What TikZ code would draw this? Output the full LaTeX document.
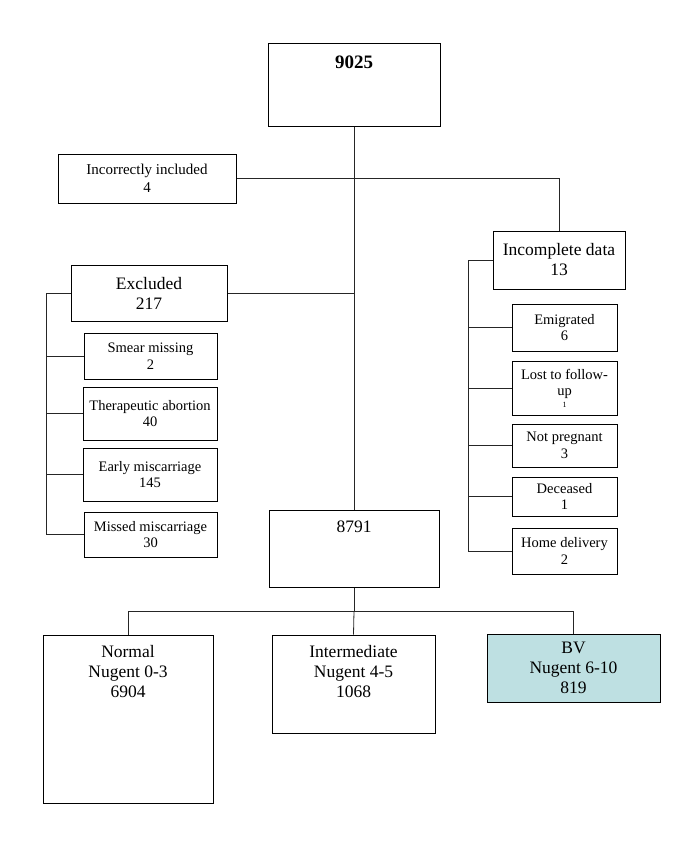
\documentclass[tikz,border=0pt]{standalone}
\usepackage{fontspec}
\setmainfont{Liberation Serif}
\definecolor{bvfill}{RGB}{190,224,226}
\begin{document}
\begin{tikzpicture}[x=1pt,y=-1pt,
  box/.style={draw=black, line width=1pt, inner sep=0pt, align=center},
  link/.style={draw=black!85, line width=0.8pt},
  big/.style={font=\fontsize{17.5}{20}\selectfont},
  mid/.style={font=\fontsize{15}{18}\selectfont},
  sm/.style={font=\fontsize{14.5}{16.5}\selectfont},
  txt/.style={inner sep=0pt, align=center, anchor=north}]
\useasboundingbox (0,0) rectangle (685,844);
% main boxes
\node[box, minimum width=172pt, minimum height=83pt] (top) at (354,84.5) {};
\node[txt, font=\bfseries\fontsize{19}{22}\selectfont] (topt) at (354,56) {9025};
\node[box, mid, minimum width=178pt, minimum height=49pt] (inc) at (147,178.5) {Incorrectly included\\4};
\node[box, big, minimum width=132pt, minimum height=58pt] (incd) at (559,260) {Incomplete data\\13};
\node[box, big, minimum width=156pt, minimum height=56pt] (excl) at (149,293) {Excluded\\217};
% left sub-boxes
\node[box, sm, minimum width=133pt, minimum height=46pt] (smear) at (150.5,356) {Smear missing\\2};
\node[box, sm, minimum width=134pt, minimum height=53pt] (thera) at (150,413.5) {Therapeutic abortion\\40};
\node[box, sm, minimum width=134pt, minimum height=53pt] (early) at (150,474.5) {Early miscarriage\\145};
\node[box, sm, minimum width=133pt, minimum height=45pt] (missed) at (150.5,534.5) {Missed miscarriage\\30};
% right sub-boxes
\node[box, sm, minimum width=105pt, minimum height=47pt] (emig) at (564.5,327.5) {Emigrated\\6};
\node[box, sm, minimum width=105pt, minimum height=54pt] (lost) at (564.5,388) {Lost to follow-\\up\\[-5pt]{\fontsize{8}{8}\selectfont 1}};
\node[box, sm, minimum width=105pt, minimum height=43pt] (notp) at (564.5,445.5) {Not pregnant\\3};
\node[box, sm, minimum width=105pt, minimum height=39pt] (dec) at (564.5,496.5) {Deceased\\1};
\node[box, sm, minimum width=105pt, minimum height=46pt] (home) at (564.5,551) {Home delivery\\2};
% 8791 and outcomes
\node[box, minimum width=170pt, minimum height=77pt] (mid8791) at (354,548.5) {};
\node[txt, big] (mid8791t) at (354,521) {8791};
\node[box, minimum width=170pt, minimum height=168pt] (normal) at (128,719) {};
\node[txt, big] (normalt) at (128,645) {Normal\\Nugent 0-3\\6904};
\node[box, minimum width=163pt, minimum height=98pt] (inter) at (353.5,684) {};
\node[txt, big] (intert) at (353.5,645) {Intermediate\\Nugent 4-5\\1068};
\node[box, big, fill=bvfill, minimum width=173pt, minimum height=68pt] (bv) at (573.5,668) {BV\\Nugent 6-10\\819};
% connectors
\draw[link] (top.south) -- (mid8791.north);
\coordinate (jA) at (354,178.5);
\draw[link] (inc.east) -- (jA);
\draw[link] (jA) -| (incd.north);
\coordinate (jB) at (354,293);
\draw[link] (excl.east) -- (jB);
\coordinate (lb) at (46,293);
\draw[link] (excl.west) -- (lb) |- (missed.west);
\foreach \n in {smear,thera,early} \draw[link] (lb |- \n.west) -- (\n.west);
\coordinate (rb) at (468,260);
\draw[link] (incd.west) -- (rb) |- (home.west);
\foreach \n in {emig,lost,notp,dec} \draw[link] (rb |- \n.west) -- (\n.west);
\coordinate (jC) at (354,611);
\draw[link] (mid8791.south) -- (jC);
\draw[link] (normal.north) |- (jC);
\draw[link] (jC) -| (bv.north);
\draw[link] (jC) -- (inter.north);
\end{tikzpicture}
\end{document}
